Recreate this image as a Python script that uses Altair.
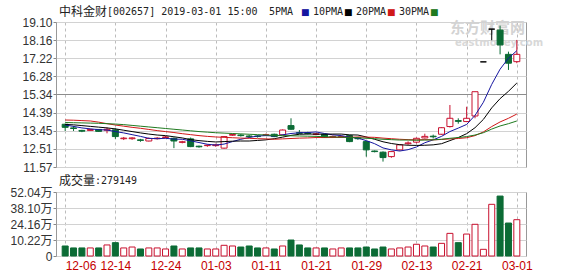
import altair as alt
import pandas as pd

dates = ["12-06","12-07","12-10","12-11","12-12","12-13","12-14","12-17","12-18","12-19",
         "12-20","12-21","12-24","12-25","12-26","12-27","12-28","01-02","01-03","01-04",
         "01-07","01-08","01-09","01-10","01-11","01-14","01-15","01-16","01-17","01-18",
         "01-21","01-22","01-23","01-24","01-25","01-28","01-29","01-30","01-31","02-01",
         "02-11","02-12","02-13","02-14","02-15","02-18","02-19","02-20","02-21","02-22",
         "02-25","02-26","02-27","02-28","03-01"]
opens = [13.79,13.60,13.47,13.47,13.52,13.48,13.50,13.04,13.04,12.98,
         12.92,13.04,13.10,13.06,12.85,13.03,12.65,12.68,12.68,12.55,
         13.22,13.23,13.18,13.18,13.22,13.27,13.24,13.72,13.35,13.34,
         13.26,13.27,13.13,13.12,13.20,13.08,12.89,12.40,12.34,12.11,
         12.46,12.78,12.86,13.08,13.17,13.27,13.67,13.98,13.93,14.22,
         17.03,18.73,18.68,17.42,17.04]
highs = [13.82,13.70,13.50,13.55,13.54,13.62,13.58,13.13,13.12,13.03,
         13.10,13.12,13.18,13.10,12.93,13.10,12.68,12.74,12.78,13.18,
         13.30,13.28,13.24,13.22,13.30,13.30,13.52,14.10,13.49,13.40,
         13.34,13.30,13.20,13.20,13.24,13.12,12.93,12.43,12.38,12.40,
         12.74,12.90,13.10,13.30,13.25,13.63,14.79,14.10,14.70,15.48,
         17.03,18.73,18.91,17.56,18.17]
lows = [13.44,13.44,13.38,13.45,13.40,13.32,13.03,12.97,12.98,12.88,
        12.90,13.00,13.06,12.55,12.80,12.60,12.57,12.62,12.62,12.52,
        13.18,13.15,13.10,13.10,13.18,13.12,13.22,13.50,13.28,13.26,
        13.22,13.08,13.08,13.08,12.86,12.98,12.11,12.33,11.85,12.05,
        12.42,12.72,12.80,13.05,13.05,13.25,13.62,13.82,13.90,14.10,
        17.03,18.15,17.42,16.61,16.96]
closes = [13.63,13.57,13.43,13.52,13.42,13.53,13.15,13.07,13.08,12.95,
          13.05,13.07,13.13,12.92,12.88,12.63,12.62,12.70,12.72,13.15,
          13.26,13.20,13.15,13.15,13.25,13.15,13.49,13.53,13.32,13.31,
          13.29,13.10,13.16,13.15,12.89,13.04,12.46,12.37,12.06,12.37,
          12.72,12.82,13.06,13.16,13.14,13.61,14.10,13.94,14.10,15.48,
          17.03,18.73,17.91,16.96,17.42]
volumes = [5.0,3.3,3.3,3.3,3.3,5.9,7.9,3.3,4.1,2.4,
           3.3,3.3,2.4,5.0,2.4,3.3,3.3,2.4,2.4,5.6,
           5.0,4.1,5.0,3.3,3.3,2.4,5.0,10.2,5.9,3.3,
           3.3,3.3,2.4,3.3,3.3,3.3,4.1,2.4,4.1,2.4,
           3.3,4.1,6.5,5.0,4.1,7.3,16.0,7.9,15.4,23.9,
           2.1,41.3,48.5,25.0,27.91]
ma5 = [13.75,13.68,13.60,13.55,13.51,13.49,13.41,13.34,13.25,13.16,
       13.06,13.04,13.06,13.02,13.01,12.93,12.84,12.75,12.71,12.76,
       12.89,13.01,13.10,13.18,13.20,13.18,13.24,13.31,13.35,13.36,
       13.39,13.31,13.24,13.20,13.12,13.07,12.94,12.78,12.56,12.46,
       12.40,12.47,12.61,12.83,12.98,13.16,13.41,13.59,13.78,14.25,
       14.93,15.86,16.65,17.22,17.61]
ma10 = [13.78,13.76,13.72,13.68,13.64,13.60,13.55,13.48,13.41,13.34,
        13.28,13.23,13.20,13.14,13.08,12.99,12.94,12.90,12.87,12.89,
        12.91,12.92,12.92,12.95,12.98,13.04,13.12,13.21,13.27,13.28,
        13.28,13.27,13.28,13.28,13.24,13.23,13.13,13.01,12.88,12.79,
        12.73,12.70,12.69,12.70,12.72,12.78,12.94,13.10,13.30,13.61,
        14.04,14.64,15.12,15.50,15.93]
ma20 = [14.01,14.00,13.98,13.96,13.90,13.82,13.75,13.69,13.63,13.58,
        13.52,13.46,13.41,13.36,13.30,13.25,13.20,13.16,13.13,13.11,
        13.09,13.07,13.06,13.04,13.03,13.01,13.03,13.05,13.07,13.08,
        13.10,13.10,13.10,13.11,13.11,13.13,13.12,13.11,13.07,13.04,
        13.01,12.99,12.98,12.99,12.98,13.00,13.03,13.05,13.09,13.20,
        13.39,13.67,13.91,14.10,14.32]
ma30 = [13.88,13.87,13.86,13.85,13.84,13.82,13.80,13.77,13.73,13.69,
        13.65,13.61,13.57,13.53,13.49,13.45,13.41,13.38,13.35,13.33,
        13.31,13.29,13.27,13.25,13.23,13.21,13.20,13.19,13.18,13.17,
        13.16,13.14,13.13,13.12,13.10,13.09,13.06,13.04,13.01,12.99,
        12.97,12.97,12.96,12.97,12.98,13.01,13.06,13.10,13.15,13.23,
        13.35,13.54,13.70,13.82,13.96]
price_ticks = [11.57, 12.51, 13.45, 14.39, 15.34, 16.28, 17.22, 18.16, 19.10]
vol_ticks = [-3.72, 10.22, 24.16, 38.10, 52.04]
label_idx = list(range(0, 55, 6))

RED = "#c8102e"
GREEN = "#0b6b35"
MA_COLORS = ["#1515a0", "#000000", "#d01818", "#1f7a1f"]
W, H1, H2 = 470, 145, 64
LABEL_FONT = "Liberation Sans, Noto Sans CJK SC"
MONO = "DejaVu Sans Mono"
CJK = "Noto Sans CJK SC"

df = pd.DataFrame(dict(i=list(range(len(dates))), d=dates, o=opens, h=highs, l=lows,
                       c=closes, v=volumes, ma5=ma5, ma10=ma10, ma20=ma20, ma30=ma30))
one = pd.DataFrame({"k": [0]})

x_scale = alt.Scale(domain=[-0.5, len(dates) - 0.5], nice=False, zero=False)
p_scale = alt.Scale(domain=[price_ticks[0], price_ticks[-1]], nice=False, zero=False)
v_scale = alt.Scale(domain=[vol_ticks[0], vol_ticks[-1]], nice=False, zero=False)
date_arr = "[" + ",".join("'%s'" % d for d in dates) + "]"

px_axis = alt.Axis(values=label_idx, labels=False, ticks=False, domain=False, grid=True,
                   gridDash=[3, 3], gridColor="#bcbcbc", title=None, minExtent=0, maxExtent=0,
                   labelPadding=0, offset=0)
py_axis = alt.Axis(values=price_ticks, format=".2f", tickSize=3, tickColor="#888888",
                   labelPadding=1, domain=False, grid=True, labelOverlap=False,
                   gridColor={"condition": {"test": "abs(datum.value - 15.34) < 0.005",
                                            "value": "#8c8c8c"}, "value": "#d2d2d2"},
                   title=None, minExtent=46, maxExtent=46, labelFontSize=12)
vx_axis = alt.Axis(values=label_idx, labelExpr=date_arr + "[datum.value]", labelColor="#c40000",
                   labelFontSize=12, labelPadding=4, ticks=False, domain=False, grid=True,
                   gridDash=[3, 3], gridColor="#bcbcbc", labelFlush=False, labelOverlap=False,
                   labelAlign={"condition": {"test": "datum.value == 0", "value": "left"},
                               "value": "center"}, title=None)
vy_axis = alt.Axis(values=vol_ticks, labelExpr="datum.value < 0 ? '0' : format(datum.value, '.2f') + '万'",
                   tickSize=3, tickColor="#888888", labelPadding=1, domain=False, grid=True,
                   gridColor="#d2d2d2", labelOverlap=False, title=None, minExtent=46, maxExtent=46,
                   labelFontSize=12)

dir_expr = "datum.c > datum.o ? 'up' : (datum.c < datum.o ? 'down' : 'flat')"
stroke_scale = alt.Scale(domain=["up", "down", "flat"], range=[RED, GREEN, "#000000"])
fill_scale = alt.Scale(domain=["up", "down", "flat"], range=["#ffffff", GREEN, "#000000"])

X_p = alt.X("i:Q", scale=x_scale, axis=px_axis)
base = alt.Chart(df).transform_calculate(dir=dir_expr)

wick = base.mark_rule(strokeWidth=1).encode(
    x=X_p, y=alt.Y("l:Q", scale=p_scale, axis=py_axis), y2="h:Q",
    stroke=alt.Stroke("dir:N", scale=stroke_scale, legend=None))
body = base.mark_bar(size=6, strokeWidth=1).encode(
    x=X_p, y=alt.Y("o:Q", scale=p_scale, axis=py_axis), y2="c:Q",
    fill=alt.Fill("dir:N", scale=fill_scale, legend=None),
    stroke=alt.Stroke("dir:N", scale=stroke_scale, legend=None))
lines = alt.Chart(df).transform_fold(["ma5", "ma10", "ma20", "ma30"], as_=["ma", "val"]).mark_line(
    strokeWidth=1).encode(
    x=X_p, y=alt.Y("val:Q", scale=p_scale, axis=py_axis),
    color=alt.Color("ma:N", scale=alt.Scale(domain=["ma5", "ma10", "ma20", "ma30"], range=MA_COLORS),
                    legend=None))

def txt(text, x, y, font, size, color, weight="normal", align="left"):
    return alt.Chart(one).mark_text(text=text, font=font, fontSize=size, color=color,
                                    fontWeight=weight, align=align, baseline="middle").encode(
        x=alt.value(x), y=alt.value(y))

wm1 = txt("东方财富网", 394, 6, CJK, 15, "#d3d3d3", "bold")
wm2 = txt("eastmoney.com", 399, 21, "DejaVu Sans", 10, "#d8d8d8", "bold")

header = [
    txt("中科金财", 3, -10.5, CJK, 12, "#222222"),
    txt("[002657] 2019-03-01 15:00", 51, -10.5, MONO, 10, "#222222"),
    txt("5PMA", 213, -10.5, MONO, 10, "#222222"),
    txt("■", 245, -10.5, "DejaVu Sans", 9, MA_COLORS[0]),
    txt("10PMA", 257, -10.5, MONO, 10, "#222222"),
    txt("■", 288, -10.5, "DejaVu Sans", 9, MA_COLORS[1]),
    txt("20PMA", 300, -10.5, MONO, 10, "#222222"),
    txt("■", 331, -10.5, "DejaVu Sans", 9, MA_COLORS[2]),
    txt("30PMA", 343, -10.5, MONO, 10, "#222222"),
    txt("■", 374, -10.5, "DejaVu Sans", 9, MA_COLORS[3]),
]

price = alt.layer(wm1, wm2, wick, body, lines, *header).properties(width=W, height=H1)

vol_bars = alt.Chart(df).transform_calculate(vd="datum.c >= datum.o ? 'up' : 'down'").mark_bar(
    size=6, strokeWidth=1).encode(
    x=alt.X("i:Q", scale=x_scale, axis=vx_axis),
    y=alt.Y("v:Q", scale=v_scale, axis=vy_axis),
    y2=alt.Y2Datum(vol_ticks[0]),
    fill=alt.Fill("vd:N", scale=fill_scale, legend=None),
    stroke=alt.Stroke("vd:N", scale=stroke_scale, legend=None))
vol_t1 = txt("成交量", 3, -11.5, CJK, 12, "#222222")
vol_t2 = txt(":279149", 39, -11.5, MONO, 10, "#222222")
volume = alt.layer(vol_bars, vol_t1, vol_t2).properties(width=W, height=H2)

chart = alt.vconcat(price, volume, spacing=0).resolve_scale(
    fill="independent", stroke="independent", color="independent"
).properties(
    padding={"left": 9, "top": 5, "right": 10, "bottom": 0}
).configure_view(stroke="#999999", strokeWidth=1).configure_axis(
    labelFont=LABEL_FONT, labelColor="#333333")

chart.save("out.html", embed_options={"renderer": "svg", "actions": False})
